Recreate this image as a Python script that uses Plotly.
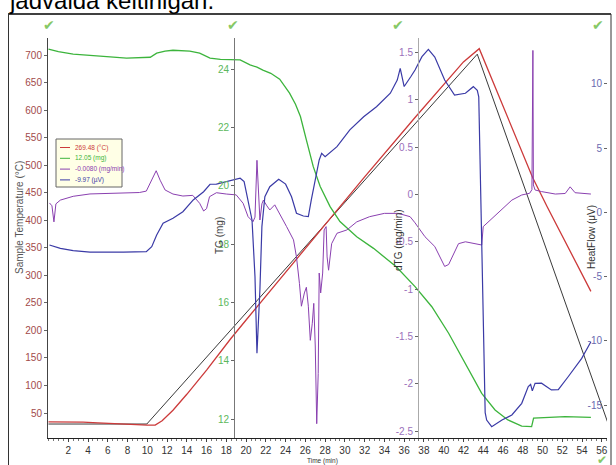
import plotly.graph_objects as go

# ---------------- data ----------------
time_ticks = list(range(2, 57, 2))
time_labels = [str(v) for v in time_ticks]

temp_ticks = list(range(50, 701, 50))
temp_labels = [str(v) for v in temp_ticks]
tg_ticks = [12, 14, 16, 18, 20, 22, 24]
tg_labels = [str(v) for v in tg_ticks]
dtg_ticks = [-2.5, -2, -1.5, -1, -0.5, 0, 0.5, 1, 1.5]
dtg_labels = ["-2.5", "-2", "-1.5", "-1", "-0.5", "0", "0.5", "1", "1.5"]
hf_ticks = [-15, -10, -5, 0, 5, 10]
hf_labels = ["-15", "-10", "-5", "0", "5", "10"]

# Sample temperature (°C)
temp_t = [0, 2, 3.5, 5, 6.5, 8, 10, 10.8, 11.5, 12.6, 14, 16, 18.4, 20, 24, 27.5,
          32, 37.1, 40, 42, 43.6, 45, 46.5, 48, 49, 50.5, 52, 53.5, 54.9]
temp_v = [34, 34, 33.5, 32, 30.5, 29.5, 28, 28, 36, 55, 84, 128, 184, 219, 306, 382,
          479, 587, 648, 688, 712, 651, 586, 521, 478, 424, 372, 320, 271]

# Program temperature (°C)
prog_t = [0, 9.95, 43.4, 56.6]
prog_v = [30, 30, 702, 33]

# TG (mg)
tg_t = [0, 1, 2.5, 4, 5.9, 7.9, 9.5, 10.3, 10.95, 11.8, 12.6, 13.5, 14.3, 15.3, 16.35,
        17.4, 18.4, 19.4, 20.4, 21.1, 21.7, 22.5, 23.4, 24.4, 25, 25.5, 26.1, 26.8,
        27.5, 28.5, 29.5, 31.2, 32.9, 35.2, 37.1, 38.8, 40.5, 42.2, 43.85, 45.2, 46.5,
        47.9, 48.9, 49.1, 50.6, 52.3, 54.9]
tg_v = [24.69, 24.6, 24.52, 24.47, 24.43, 24.38, 24.39, 24.41, 24.55, 24.62, 24.65,
        24.64, 24.62, 24.55, 24.38, 24.34, 24.33, 24.32, 24.15, 24.07, 23.97, 23.86,
        23.66, 23.18, 22.8, 22.38, 21.58, 20.66, 19.98, 19.29, 18.78, 18.26, 17.86,
        17.23, 16.55, 15.86, 14.95, 13.92, 12.89, 12.32, 11.98, 11.77, 11.75, 12.04,
        12.06, 12.09, 12.07]

# dTG (mg/min)
dtg_t = [0.1, 0.35, 0.55, 0.75, 1.2, 2.5, 4.2, 5.9, 7.9, 9.2, 9.9, 10.45, 10.9, 11.3,
         11.8, 12.6, 13.6, 14.6, 15.3, 15.7, 16.0, 16.3, 17.0, 18.0, 19.0, 19.7, 20.2,
         20.7, 20.9, 21.1, 21.25, 21.4, 21.6, 21.75, 22.1, 22.4, 22.9, 23.4, 24.1, 24.8,
         25.1, 25.4, 25.6, 25.9, 26.1, 26.3, 26.5, 26.7, 26.85, 27.0, 27.15, 27.3, 27.4,
         27.55, 27.75, 27.9, 28.1, 28.2, 28.35, 28.66, 29.2, 30.2, 31.2, 32.5, 34.0,
         35.4, 36.6, 37.1, 38.1, 39.1, 40.1, 40.5, 41.5, 42.2, 43.85, 44.0, 44.5, 45.5,
         46.9, 47.9, 48.7, 48.93, 48.97, 49.03, 49.08, 49.25, 49.9, 51.3, 52.3, 52.8,
         53.3, 54.9]
dtg_v = [-0.09, -0.12, -0.29, -0.1, -0.06, -0.02, 0.005, 0.01, 0.022, 0.02, 0.035, 0.15,
         0.25, 0.15, 0.047, 0.004, -0.017, -0.01, -0.094, -0.175, -0.15, -0.024, 0.018,
         0.004, -0.005, -0.094, -0.235, -0.288, -0.24, 0.36, -0.05, -0.27, -0.1, -0.06,
         -0.12, -0.164, -0.11, -0.2, -0.34, -0.48, -0.66, -0.94, -1.18, -1.04, -0.98,
         -1.18, -1.54, -1.36, -1.15, -1.6, -2.42, -1.89, -0.83, -1.04, -0.83, -0.375,
         -0.34, -0.66, -0.8, -0.52, -0.41, -0.375, -0.29, -0.235, -0.2, -0.2, -0.235,
         -0.3, -0.446, -0.55, -0.76, -0.74, -0.52, -0.5, -0.534, -0.34, -0.29, -0.2,
         -0.06, -0.006, 0.012, 0.05, 1.52, 1.52, 0.1, 0.047, 0.03, 0.004, 0.01, 0.08,
         0.018, 0.004]

# HeatFlow (µV)
hf_t = [0.1, 1.2, 2.5, 4.2, 7.6, 9.9, 10.45, 10.95, 11.6, 12.6, 13.6, 14.65, 15.7, 16.35,
        17.0, 18.0, 18.4, 19.4, 19.8, 20.1, 20.6, 20.9, 21.1, 21.4, 21.6, 21.9, 22.4,
        23.3, 24.0, 24.6, 25.1, 25.8, 26.3, 26.6, 27.1, 27.4, 27.65, 28.0, 29.2, 30.5,
        31.9, 33.2, 34.6, 35.3, 35.6, 35.9, 36.0, 36.7, 37.1, 37.8, 38.45, 39.1, 40.1,
        41.1, 42.2, 43.0, 43.4, 43.55, 44.2, 44.35, 44.86, 45.9, 46.9, 47.9, 48.56,
        48.8, 48.97, 49.25, 49.9, 50.9, 51.6, 52.6, 53.97, 54.9]
hf_v = [-2.54, -2.8, -2.98, -3.1, -3.1, -3.06, -2.67, -1.76, -0.85, -0.46, 0.05, 0.97,
        1.61, 2.19, 2.2, 2.39, 2.5, 2.66, 2.4, 1.22, -0.59, -5.0, -10.97, -6.0, -1.11,
        1.22, 2.0, 2.58, 2.2, 1.22, -0.07, -0.28, -0.33, 0.97, 3.05, 4.08, 4.6, 4.34,
        5.12, 6.42, 7.45, 8.23, 9.28, 10.3, 11.22, 10.31, 9.8, 10.6, 11.09, 12.13, 12.7,
        12.1, 10.31, 9.14, 9.28, 9.79, 9.5, 9.0, -15.6, -16.17, -16.69, -16.17, -15.78,
        -14.87, -13.57, -13.4, -13.9, -13.31, -13.3, -13.83, -13.8, -12.8, -11.37,
        -10.07]

legend_labels = ["269.48 (°C)", "12.05 (mg)", "-0.0080 (mg/min)", "-9.97 (µV)"]

# ---------------- styling ----------------
C_RED = "#cc3a3a"
C_BLK = "#222222"
C_GRN = "#3cb43c"
C_PUR = "#8a40b0"
C_BLU = "#3a3aa6"
NARROW = "Liberation Sans Narrow, Arial Narrow, Liberation Sans, Arial, sans-serif"
SANS = "Liberation Sans, Arial, sans-serif"

W, H = 616, 465
L, R, T, B = 48, 607, 38, 438


def px(x):
    return (x - L) / (R - L)


def py(y):
    return (B - y) / (B - T)


fig = go.Figure()
fig.add_trace(go.Scatter(x=prog_t, y=prog_v, mode="lines", yaxis="y",
                         line=dict(color=C_BLK, width=0.9)))
fig.add_trace(go.Scatter(x=temp_t, y=temp_v, mode="lines", yaxis="y",
                         line=dict(color=C_RED, width=1.3)))
fig.add_trace(go.Scatter(x=tg_t, y=tg_v, mode="lines", yaxis="y2",
                         line=dict(color=C_GRN, width=1.3)))
fig.add_trace(go.Scatter(x=dtg_t, y=dtg_v, mode="lines", yaxis="y3",
                         line=dict(color=C_PUR, width=1.0)))
fig.add_trace(go.Scatter(x=hf_t, y=hf_v, mode="lines", yaxis="y4",
                         line=dict(color=C_BLU, width=1.2)))


def yax(rng, vals, labels, color, linecolor, **kw):
    d = dict(range=rng, tickmode="array", tickvals=vals, ticktext=labels,
             ticks="outside", ticklen=3, tickcolor="#666", showline=True,
             linecolor=linecolor, linewidth=1, showgrid=False, zeroline=False,
             tickfont=dict(family=NARROW, size=10, color=color), fixedrange=True)
    d.update(kw)
    return d


fig.update_layout(
    width=W, height=H,
    margin=dict(l=L, r=W - R, t=T, b=H - B, pad=0),
    paper_bgcolor="white", plot_bgcolor="white", showlegend=False,
    xaxis=dict(range=[-0.05, 56.53], tickmode="array", tickvals=time_ticks,
               ticktext=time_labels, ticks="outside", ticklen=3, tickcolor="#444",
               showline=True, linecolor="#222", linewidth=1, showgrid=False,
               zeroline=False, tickfont=dict(family=NARROW, size=10, color="#333"),
               minor=dict(tickmode="linear", tick0=0, dtick=0.5, ticks="outside",
                          ticklen=2, tickcolor="#777", showgrid=False)),
    yaxis=yax([4.6, 731.4], temp_ticks, temp_labels, "#a24a4a", "#444"),
    yaxis2=yax([11.36, 25.07], tg_ticks, tg_labels, "#5cb85c", "#777",
               overlaying="y", anchor="free", position=px(234), side="left"),
    yaxis3=yax([-2.571, 1.651], dtg_ticks, dtg_labels, "#9a70bb", "#aaa",
               overlaying="y", anchor="free", position=px(418), side="left"),
    yaxis4=yax([-17.57, 13.58], hf_ticks, hf_labels, "#6a6ab0", "rgba(0,0,0,0)",
               overlaying="y", anchor="free", position=1.0, side="left"),
)

annots = []


def ann(x, y, text, size, color, angle=0, family=SANS, xanchor="center", yanchor="middle"):
    annots.append(dict(x=px(x), y=py(y), xref="paper", yref="paper", text=text,
                       showarrow=False, textangle=angle, xanchor=xanchor,
                       yanchor=yanchor, font=dict(family=family, size=size, color=color)))


ann(20, 218, "Sample Temperature (°C)", 10, "#555", -90)
ann(219, 236, "TG (mg)", 10, "#444", -90)
ann(398, 240, "dTG (mg/min)", 10, "#333", -90)
ann(591, 237, "HeatFlow (μV)", 10, "#333", -90)
ann(322, 461, "Time (min)", 6.5, "#333", family=NARROW)
ann(7, 0, "jadvalda keltirilgan.", 24, "#000", xanchor="left")

for cx, cy in [(49, 25), (233, 25), (398, 25), (598, 25)]:
    ann(cx, cy, "✔", 14, "#86c866", family="DejaVu Sans")
ann(602, 459.5, "✔", 12, "#86c866", family="DejaVu Sans")

shapes = [
    dict(type="line", xref="paper", yref="paper", x0=px(8), x1=px(611), y0=py(14), y1=py(14),
         line=dict(color="#000", width=1.5)),
    dict(type="line", xref="paper", yref="paper", x0=px(8.5), x1=px(8.5), y0=py(14), y1=py(466),
         line=dict(color="#333", width=1)),
    dict(type="line", xref="paper", yref="paper", x0=px(611), x1=px(611), y0=py(14), y1=py(466),
         line=dict(color="#333", width=1)),
    dict(type="rect", xref="paper", yref="paper", x0=px(56), x1=px(122), y0=py(187), y1=py(139),
         fillcolor="#ffffe6", line=dict(color="#666", width=1)),
]

leg_colors = [C_RED, C_GRN, C_PUR, C_BLU]
for i, (lab, col) in enumerate(zip(legend_labels, leg_colors)):
    yy = 147.5 + i * 10.8
    shapes.append(dict(type="line", xref="paper", yref="paper", x0=px(60), x1=px(70),
                       y0=py(yy), y1=py(yy), line=dict(color=col, width=1)))
    ann(73, yy, lab, 6.5, col, family=NARROW, xanchor="left")

fig.update_layout(annotations=annots, shapes=shapes)
fig.write_html("out.html")
